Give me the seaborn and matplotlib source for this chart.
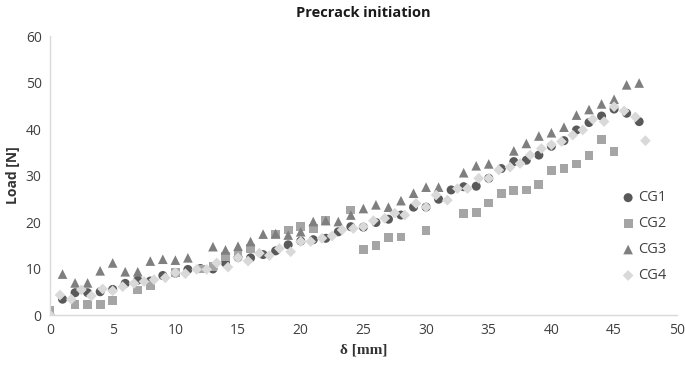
import numpy as np
import pandas as pd
import seaborn as sns
import matplotlib.pyplot as plt

# valores
cg1_x = [0, 1, 2, 3, 4, 5, 6, 7, 8, 9, 10, 11, 12, 13, 14, 15, 16, 17, 18, 19, 20, 21, 22, 23,
         24, 25, 26, 27, 28, 29, 30, 31, 32, 33, 34, 35, 36, 37, 38, 39, 40, 41, 42, 43, 44, 45, 46, 47]
cg1_y = [0.0, 3.4, 4.8, 4.8, 5.0, 5.5, 6.8, 7.5, 7.3, 8.5, 9.0, 9.8, 10.0, 9.9, 11.2, 12.4, 12.3, 13.0,
         13.8, 15.1, 15.9, 16.2, 16.5, 17.9, 19.0, 18.9, 19.9, 20.6, 21.5, 23.2, 23.2, 24.9, 26.9, 27.6,
         27.7, 29.4, 31.5, 33.0, 33.3, 34.4, 36.3, 37.5, 39.8, 41.4, 42.8, 44.3, 43.4, 41.6]

cg2_x = [0, 2, 3, 4, 5, 7, 8, 10, 12, 13, 14, 15, 16, 18, 19, 20, 21, 22, 24, 25, 26, 27, 28, 30,
         33, 34, 35, 36, 37, 38, 39, 40, 41, 42, 43, 44, 45]
cg2_y = [0.9, 2.2, 2.2, 2.2, 3.2, 5.4, 6.4, 9.1, 9.9, 10.4, 12.6, 13.0, 14.3, 17.4, 18.3, 19.0, 18.6,
         20.3, 22.6, 14.1, 14.9, 16.7, 16.8, 18.2, 21.9, 22.0, 24.1, 26.2, 26.7, 26.9, 28.0, 31.0, 31.5,
         32.5, 34.3, 37.7, 35.2]

cg3_x = [1, 2, 3, 4, 5, 6, 7, 8, 9, 10, 11, 13, 14, 15, 16, 17, 18, 19, 20, 21, 22, 23, 24, 25, 26,
         27, 28, 29, 30, 31, 33, 34, 35, 37, 38, 39, 40, 41, 42, 43, 44, 45, 46, 47]
cg3_y = [8.8, 6.9, 6.9, 9.5, 11.2, 9.3, 9.3, 11.6, 12.0, 11.8, 12.3, 14.7, 14.0, 14.8, 15.8, 17.4,
         17.5, 17.2, 17.9, 20.1, 20.3, 20.1, 21.5, 22.9, 23.7, 23.2, 24.6, 26.2, 27.5, 27.5, 30.6, 32.1,
         32.5, 35.3, 36.9, 38.5, 39.2, 40.4, 43.0, 44.2, 45.4, 46.4, 49.5, 49.9]

cg4_x = [0.0, 0.8, 1.7, 2.5, 3.3, 4.2, 5.0, 5.8, 6.7, 7.5, 8.3, 9.2, 10.0, 10.8, 11.7, 12.5, 13.3,
         14.2, 15.0, 15.8, 16.7, 17.5, 18.3, 19.2, 20.0, 20.8, 21.7, 22.5, 23.3, 24.2, 25.0, 25.8, 26.7,
         27.5, 28.3, 29.2, 30.0, 30.8, 31.7, 32.5, 33.3, 34.2, 35.0, 35.8, 36.7, 37.5, 38.3, 39.2, 40.0,
         40.8, 41.7, 42.5, 43.3, 44.2, 45.0, 45.8, 46.7, 47.5]
cg4_y = [0.0, 4.3, 3.4, 5.4, 4.1, 5.6, 5.2, 6.1, 6.8, 7.2, 7.6, 8.0, 9.1, 8.9, 9.8, 9.8, 11.2, 10.3,
         12.3, 11.6, 13.3, 12.8, 14.3, 13.6, 15.8, 15.8, 16.5, 17.0, 18.3, 18.6, 19.0, 20.3, 20.8, 21.9,
         21.5, 24.0, 23.2, 25.8, 24.7, 27.2, 27.2, 29.4, 29.4, 31.2, 31.8, 32.6, 34.4, 35.8, 36.6, 37.3,
         38.7, 39.8, 42.1, 41.6, 44.8, 43.9, 42.6, 37.5]

series = ['CG1', 'CG2', 'CG3', 'CG4']
cores = ['#595959', '#a5a5a5', '#7f7f7f', '#d9d9d9']
marcadores = ['o', 's', '^', 'D']
tamanhos = [42, 40, 48, 30]

df = pd.concat([
    pd.DataFrame({'delta': cg1_x, 'load': cg1_y, 'serie': 'CG1'}),
    pd.DataFrame({'delta': cg2_x, 'load': cg2_y, 'serie': 'CG2'}),
    pd.DataFrame({'delta': cg3_x, 'load': cg3_y, 'serie': 'CG3'}),
    pd.DataFrame({'delta': cg4_x, 'load': cg4_y, 'serie': 'CG4'}),
])

sns.set_style('white')
plt.rcParams['font.family'] = ['Open Sans', 'DejaVu Sans']

fig = plt.figure(figsize=(6.85, 3.68), dpi=100)
ax = fig.add_axes([0.073, 0.144, 0.915, 0.758])

for s, c, m, t in zip(series, cores, marcadores, tamanhos):
    sns.scatterplot(data=df[df['serie'] == s], x='delta', y='load', color=c, marker=m,
                    s=t, edgecolor='none', label=s, ax=ax)

ax.set_xlim(0, 50)
ax.set_ylim(0, 60)
ax.set_xticks(range(0, 51, 5))
ax.set_yticks(range(0, 61, 10))
ax.tick_params(axis='both', length=0, labelsize=10, colors='#404040', pad=6)

for lado in ['top', 'right']:
    ax.spines[lado].set_visible(False)
for lado in ['left', 'bottom']:
    ax.spines[lado].set_color('#d9d9d9')
    ax.spines[lado].set_linewidth(1)

ax.set_title('Precrack initiation', fontsize=10.5, fontweight='bold', pad=14, color='#1a1a1a')
ax.set_xlabel('δ [mm]', fontsize=11, fontweight='bold', family='Liberation Serif', color='#333333')
ax.set_ylabel('Load [N]', fontsize=10, fontweight='bold', color='#333333', labelpad=4)

leg = ax.legend(loc='center right', bbox_to_anchor=(1.0, 0.28), frameon=False, fontsize=10.5,
                handletextpad=0.1, labelspacing=0.75, handlelength=1.2, borderaxespad=0.3)
for txt in leg.get_texts():
    txt.set_color('#404040')

plt.savefig('out.png', dpi=100)
